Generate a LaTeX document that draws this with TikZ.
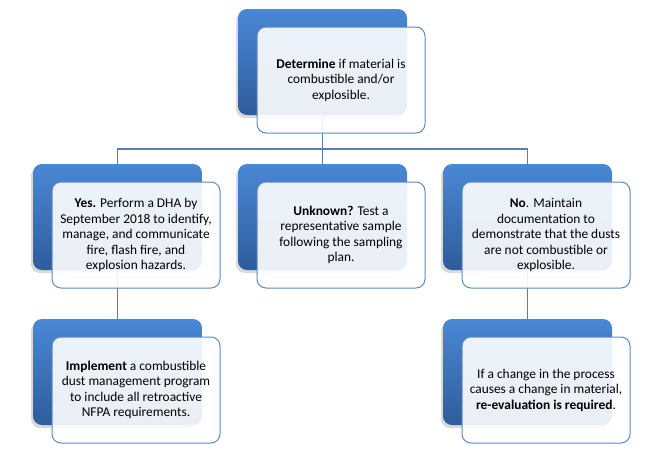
\documentclass[tikz,border=0pt]{standalone}
\usepackage{fontspec}
\setmainfont{Carlito}
\usetikzlibrary{shadows}
\definecolor{blueTop}{HTML}{4A88D4}
\definecolor{blueBot}{HTML}{2E5C9C}
\definecolor{frameblue}{HTML}{5F89C6}
\definecolor{linkblue}{HTML}{5A7EB4}
\tikzset{
  backbox/.style={rounded corners=9pt, minimum width=169pt, minimum height=106pt,
    top color=blueTop, bottom color=blueBot, draw=none, inner sep=0pt,
    drop shadow={shadow xshift=-2pt, shadow yshift=-3pt, opacity=0.3}},
  frontbox/.style={rounded corners=9pt, minimum width=168pt, minimum height=106pt,
    draw=frameblue, line width=1pt, fill=white, fill opacity=0.9, text opacity=1,
    align=center, font=\fontsize{13.4}{15.5}\selectfont, inner sep=0pt},
  link/.style={draw=linkblue, line width=1.2pt},
}
\begin{document}
\begin{tikzpicture}[x=1pt,y=-1pt]
\useasboundingbox (0,0) rectangle (667,461);
% back boxes
\node[backbox] (topB) at (322.5,62) {};
\node[backbox] (yesB) at (117.5,217) {};
\node[backbox] (unkB) at (322.5,217) {};
\node[backbox] (noB) at (527.5,217) {};
\node[backbox] (implB) at (117.5,372) {};
\node[backbox] (reB) at (527.5,372) {};
% connectors
\coordinate (bus) at (322.5,149);
\draw[link] (topB.south) -- (bus);
\draw[link] (yesB.north) |- (bus) -| (noB.north);
\draw[link] (bus) -- (unkB.north);
\draw[link] (yesB.south) -- (implB.north);
\draw[link] (noB.south) -- (reB.north);
% front boxes
\node[frontbox] (top) at (341,80) {\textbf{Determine} if material is\\combustible and/or\\explosible.};
\node[frontbox] (yes) at (136,235) {\textbf{Yes.} Perform a DHA by\\September 2018 to identify,\\manage, and communicate\\fire, flash fire, and\\explosion hazards.};
\node[frontbox] (unk) at (341,235) {\textbf{Unknown?} Test a\\representative sample\\following the sampling\\plan.};
\node[frontbox] (no) at (546,235) {\textbf{No}. Maintain\\documentation to\\demonstrate that the dusts\\are not combustible or\\explosible.};
\node[frontbox] (impl) at (136,390) {\textbf{Implement} a combustible\\dust management program\\to include all retroactive\\NFPA requirements.};
\node[frontbox] (re) at (546,390) {If a change in the process\\causes a change in material,\\\textbf{re-evaluation is required}.};
\end{tikzpicture}
\end{document}
